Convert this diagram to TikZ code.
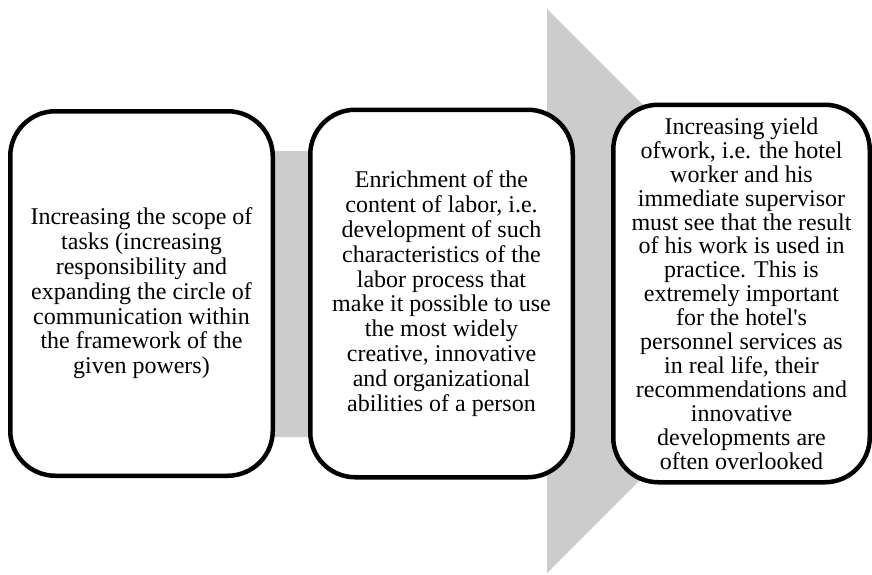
\documentclass[tikz,border=0pt]{standalone}
\usepackage{fontspec}
\setmainfont{Liberation Serif}
\usetikzlibrary{positioning}
\definecolor{arrowgray}{RGB}{204,204,204}
\setlength{\lineskiplimit}{-30pt}
\tikzset{stagebox/.style={draw, line width=4.5pt, rounded corners=45pt, fill=white, align=center, inner sep=2pt, font=\fontsize{24}{24.8}\selectfont}}

\begin{document}
\begin{tikzpicture}[x=1pt, y=-1pt]
\useasboundingbox (0,0) rectangle (872,574);
% big gray arrow behind the boxes
\fill[arrowgray] (10,151) -- (547,151) -- (547,9) -- (829,291) -- (547,573) -- (547,437) -- (10,437) -- cycle;
\node[stagebox, minimum width=262.5pt, minimum height=364.5pt] (scope) at (141.5,293.5) {Increasing the scope of\\tasks (increasing\\responsibility and\\expanding the circle of\\communication within\\the framework of the\\given powers)};
\node[stagebox, minimum width=262.5pt, minimum height=367.5pt, right=33pt of scope] (enrich) {Enrichment of the\\content of labor, i.e.\\development of such\\characteristics of the\\labor process that\\make it possible to use\\the most widely\\creative, innovative\\and organizational\\abilities of a person};
\node[stagebox, minimum width=256.5pt, minimum height=377.5pt, right=36pt of enrich, font=\fontsize{24}{23.9}\selectfont] (yield) {Increasing yield\\ofwork, i.e. the hotel\\worker and his\\immediate supervisor\\must see that the result\\of his work is used in\\practice. This is\\extremely important\\for the hotel\textquotesingle s\\personnel services as\\in real life, their\\recommendations and\\innovative\\developments are\\often overlooked};
\end{tikzpicture}
\end{document}
